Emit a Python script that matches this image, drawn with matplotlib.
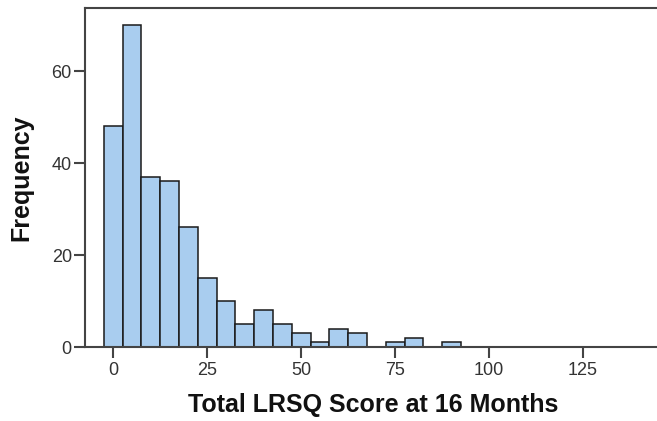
import matplotlib
matplotlib.use('Agg')
import matplotlib.pyplot as plt

# histogram bins (width 5, centred on multiples of 5) and counts
bin_centers = [0, 5, 10, 15, 20, 25, 30, 35, 40, 45, 50, 55, 60, 65, 70, 75, 80, 85, 90]
counts = [48, 70, 37, 36, 26, 15, 10, 5, 8, 5, 3, 1, 4, 3, 0, 1, 2, 0, 1]
x_ticks = [0, 25, 50, 75, 100, 125]
y_ticks = [0, 20, 40, 60]

plt.rcParams['font.family'] = ['Liberation Sans', 'DejaVu Sans']

fig = plt.figure(figsize=(6.57, 4.21), dpi=100)
ax = fig.add_axes([85 / 657, (421 - 347) / 421, 577 / 657, (347 - 8) / 421])

centers = [c for c, n in zip(bin_centers, counts) if n > 0]
heights = [n for n in counts if n > 0]
ax.bar(centers, heights, width=5, color='#a9cdef', edgecolor='#1a1a1a', linewidth=1.1)

ax.set_xlim(-7.5, 146)
ax.set_ylim(0, 73.7)
ax.set_xticks(x_ticks)
ax.set_yticks(y_ticks)

for side in ['left', 'top', 'bottom']:
    ax.spines[side].set_color('#444444')
    ax.spines[side].set_linewidth(1.5)
ax.spines['right'].set_visible(False)

ax.tick_params(axis='both', direction='out', length=8, width=1.5, color='#444444',
               labelsize=13, labelcolor='#333333')
ax.tick_params(axis='x', pad=2.5)
ax.tick_params(axis='y', pad=1.5)

ax.set_xlabel('Total LRSQ Score at 16 Months', fontsize=18, fontweight='bold', color='#111111')
ax.set_ylabel('Frequency', fontsize=18, fontweight='bold', color='#111111')
ax.xaxis.set_label_coords(0.5, -0.136)
ax.yaxis.set_label_coords(-0.090, 0.5)

plt.savefig('out.png', dpi=100)
